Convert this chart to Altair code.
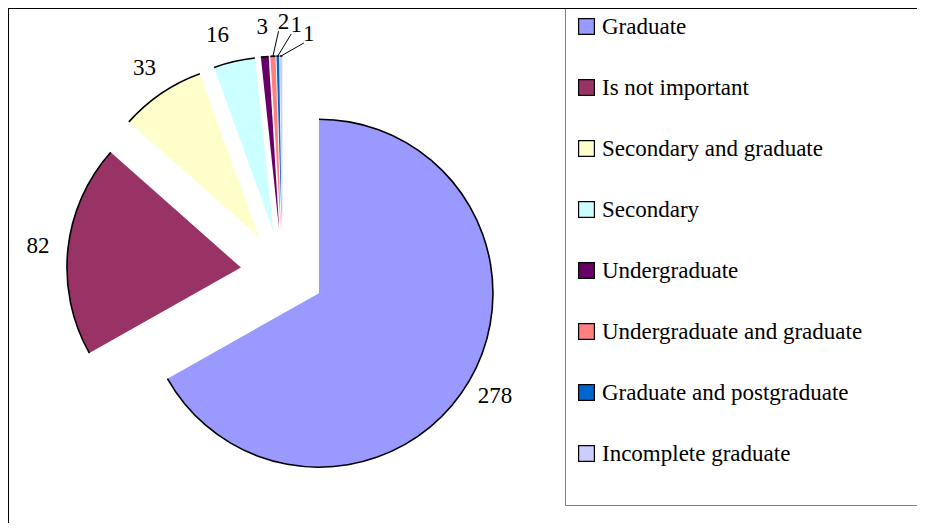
import altair as alt
import pandas as pd

categories = ["Graduate", "Is not important", "Secondary and graduate", "Secondary",
              "Undergraduate", "Undergraduate and graduate", "Graduate and postgraduate",
              "Incomplete graduate"]
values = [278, 82, 33, 16, 3, 2, 1, 1]
colors = ["#9999FF", "#993366", "#FFFFCC", "#CCFFFF", "#660066", "#FF8080", "#0066CC", "#CCCCFF"]

# layout: nudges for crowded labels (pixels) and which ones get leader lines
label_nudge = {"Secondary": (-10, 3),
               "Undergraduate and graduate": (12, -4),
               "Graduate and postgraduate": (19, -1),
               "Incomplete graduate": (28, 8)}
leader_set = {"Undergraduate and graduate", "Graduate and postgraduate", "Incomplete graduate"}

W, H = 909, 515
CX, CY = 274.7, 264.0   # pie centre (before explosion)
R = 174                  # radius
EXPL = 42                # explosion distance
LR = 204                 # label radius
FONT = "'Times New Roman', 'Liberation Serif', Times, serif"
FS = 23

df = pd.DataFrame({"category": categories, "value": values, "order": list(range(len(categories)))})
df["ndx"] = [label_nudge.get(c, (0, 0))[0] for c in categories]
df["ndy"] = [label_nudge.get(c, (0, 0))[1] for c in categories]
df["leader"] = [c in leader_set for c in categories]

base = (
    alt.Chart(df)
    .transform_joinaggregate(total="sum(value)")
    .transform_window(cum="sum(value)", sort=[alt.SortField("order")], frame=[None, 0])
    .transform_calculate(
        a1="2*PI*datum.cum/datum.total",
        a0="2*PI*(datum.cum-datum.value)/datum.total",
    )
    .transform_calculate(mid="(datum.a0+datum.a1)/2")
    .transform_calculate(
        cx=f"{CX}+{EXPL}*sin(datum.mid)",
        cy=f"{CY}-{EXPL}*cos(datum.mid)",
    )
    .transform_calculate(
        lx=f"datum.cx+{LR}*sin(datum.mid)+datum.ndx",
        ly=f"datum.cy-{LR}*cos(datum.mid)+datum.ndy",
        ex=f"datum.cx+{R}*sin(datum.mid)",
        ey=f"datum.cy-{R}*cos(datum.mid)",
    )
    .transform_calculate(lx0="datum.lx-5", ly0="datum.ly+9")
)

X = lambda f: alt.X(f"{f}:Q", scale=None, axis=None)
Y = lambda f: alt.Y(f"{f}:Q", scale=None, axis=None)

deco = alt.Chart(pd.DataFrame({"k": [0]}))

legend_box = deco.mark_rect(fill="white", stroke="#808080", strokeWidth=1).encode(
    x=alt.value(557.5), x2=alt.value(930), y=alt.value(-1), y2=alt.value(497.5))

pie = base.mark_arc(radius=R, stroke=None).encode(
    x=X("cx"), y=Y("cy"),
    theta=alt.Theta("a0:Q", scale=None, stack=None),
    theta2="a1:Q",
    color=alt.Color("category:N", sort=categories,
                    scale=alt.Scale(domain=categories, range=colors),
                    legend=alt.Legend(title=None, orient="none", legendX=567, legendY=7,
                                      symbolType="square", symbolSize=250,
                                      symbolStrokeColor="black", symbolStrokeWidth=1.2,
                                      labelFont=FONT, labelFontSize=FS, labelColor="black",
                                      labelOffset=4, rowPadding=37, labelLimit=400)),
)

outline = base.mark_arc(radius=R + 0.8, radius2=R - 0.8, color="black").encode(
    x=X("cx"), y=Y("cy"),
    theta=alt.Theta("a0:Q", scale=None, stack=None),
    theta2="a1:Q",
)

labels = base.mark_text(font=FONT, fontSize=FS, color="black", align="center", baseline="middle").encode(
    x=X("lx"), y=Y("ly"), text="value:Q")

leaders = base.transform_filter("datum.leader").mark_rule(color="black", strokeWidth=1).encode(
    x=X("lx0"), y=Y("ly0"), x2="ex:Q", y2="ey:Q")

frame_top = deco.mark_rule(color="black", strokeWidth=2).encode(
    x=alt.value(0), x2=alt.value(W), y=alt.value(0), y2=alt.value(0))
frame_left = deco.mark_rule(color="black", strokeWidth=2).encode(
    x=alt.value(0), x2=alt.value(0), y=alt.value(0), y2=alt.value(H))

chart = (
    alt.layer(legend_box, pie, outline, leaders, labels, frame_top, frame_left)
    .properties(width=W, height=H, padding=0, autosize=alt.AutoSizeParams(type="none"))
    .configure_view(stroke=None)
)

chart.save("out.html", embed_options={"renderer": "svg", "actions": False})
